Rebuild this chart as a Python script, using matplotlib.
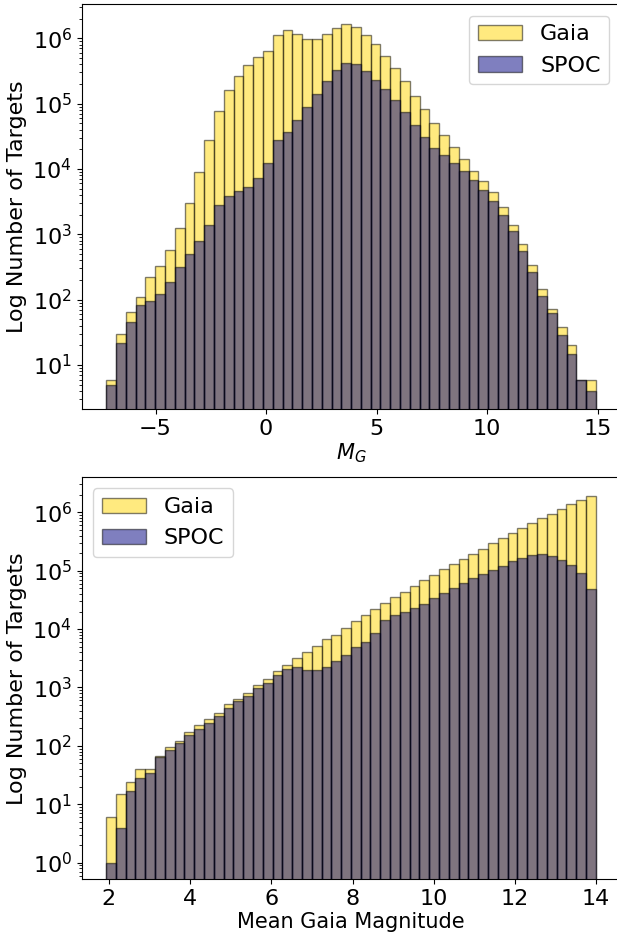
import numpy as np
import matplotlib.pyplot as plt

plt.rcParams['font.size'] = 16

# absolute magnitude M_G, 50 bins
mg_range = (-7.23, 14.93)
gaia_mg_counts = [6, 30, 64, 109, 220, 327, 569, 1236, 3013, 9000,
                  28050, 77100, 160000, 268000, 386000, 512000, 646000, 1135000, 1355000, 1175000,
                  986000, 986000, 1164000, 1420000, 1640000, 1470000, 1120000, 809000, 542000, 355000,
                  224000, 132000, 81900, 50500, 32800, 21500, 14100, 9420, 6620, 4400,
                  2620, 1400, 719, 343, 144, 73, 38, 20, 6, 6]
spoc_mg_counts = [5, 22, 46, 84, 95, 121, 186, 319, 500, 791,
                  1403, 2812, 3900, 4600, 5300, 7360, 12500, 27500, 37200, 56800,
                  88900, 142000, 222000, 324000, 424000, 400000, 313000, 230000, 166000, 114000,
                  73600, 46600, 30800, 21200, 16200, 12200, 9200, 6780, 4760, 3200,
                  1950, 1110, 561, 265, 112, 62, 29, 15, 6, 4]

# mean Gaia magnitude, 50 bins
gmag_range = (1.93, 13.99)
gaia_gmag_counts = [6, 15, 24, 41, 40, 68, 97, 123, 175, 225,
                    292, 366, 515, 635, 815, 1090, 1380, 1920, 2400, 3160,
                    4100, 5130, 6680, 7900, 10300, 13900, 17200, 21800, 27700, 35100,
                    43800, 54700, 68500, 84400, 106000, 129000, 157000, 196000, 238000, 294000,
                    358000, 442000, 532000, 656000, 789000, 946000, 1120000, 1370000, 1620000, 1920000]
spoc_gmag_counts = [1, 4, 17, 28, 34, 65, 84, 111, 152, 197,
                    247, 325, 446, 587, 714, 968, 1190, 1620, 2100, 2240,
                    1970, 2000, 2270, 2880, 3600, 4880, 6010, 8470, 14200, 17700,
                    19600, 23200, 27200, 34100, 41000, 51200, 61500, 75000, 89000, 104000,
                    122000, 145000, 165000, 186000, 193000, 181000, 152000, 125000, 91400, 48600]


def draw_hist(ax, rng, gaia, spoc):
    edges = np.linspace(rng[0], rng[1], len(gaia) + 1)
    centers = 0.5 * (edges[1:] + edges[:-1])
    ax.hist(centers, bins=edges, weights=gaia, color='gold', alpha=0.5,
            edgecolor='black', label='Gaia', log=True)
    ax.hist(centers, bins=edges, weights=spoc, color='navy', alpha=0.5,
            edgecolor='black', label='SPOC', log=True)


fig = plt.figure(figsize=(6.17, 9.36), dpi=100)

# the right spine sits just past the figure edge, as in the original crop
ax1 = fig.add_axes([0.1324, 0.5630, 0.8733, 0.4322])
draw_hist(ax1, mg_range, gaia_mg_counts, spoc_mg_counts)
ax1.set_xlim(-8.34, 16.04)
ax1.set_ylim(2.12, 3.29e6)
ax1.set_xlabel('$M_G$', fontsize=15, labelpad=2)
ax1.set_ylabel('Log Number of Targets')
ax1.legend(loc='upper right')

ax2 = fig.add_axes([0.1324, 0.0606, 0.8733, 0.4295])
draw_hist(ax2, gmag_range, gaia_gmag_counts, spoc_gmag_counts)
ax2.set_xlim(1.33, 14.6)
ax2.set_ylim(0.52, 3.98e6)
ax2.set_xlabel('Mean Gaia Magnitude', fontsize=15, labelpad=2)
ax2.set_ylabel('Log Number of Targets')
ax2.legend(loc='upper left')

plt.savefig('out.png', dpi=100)
